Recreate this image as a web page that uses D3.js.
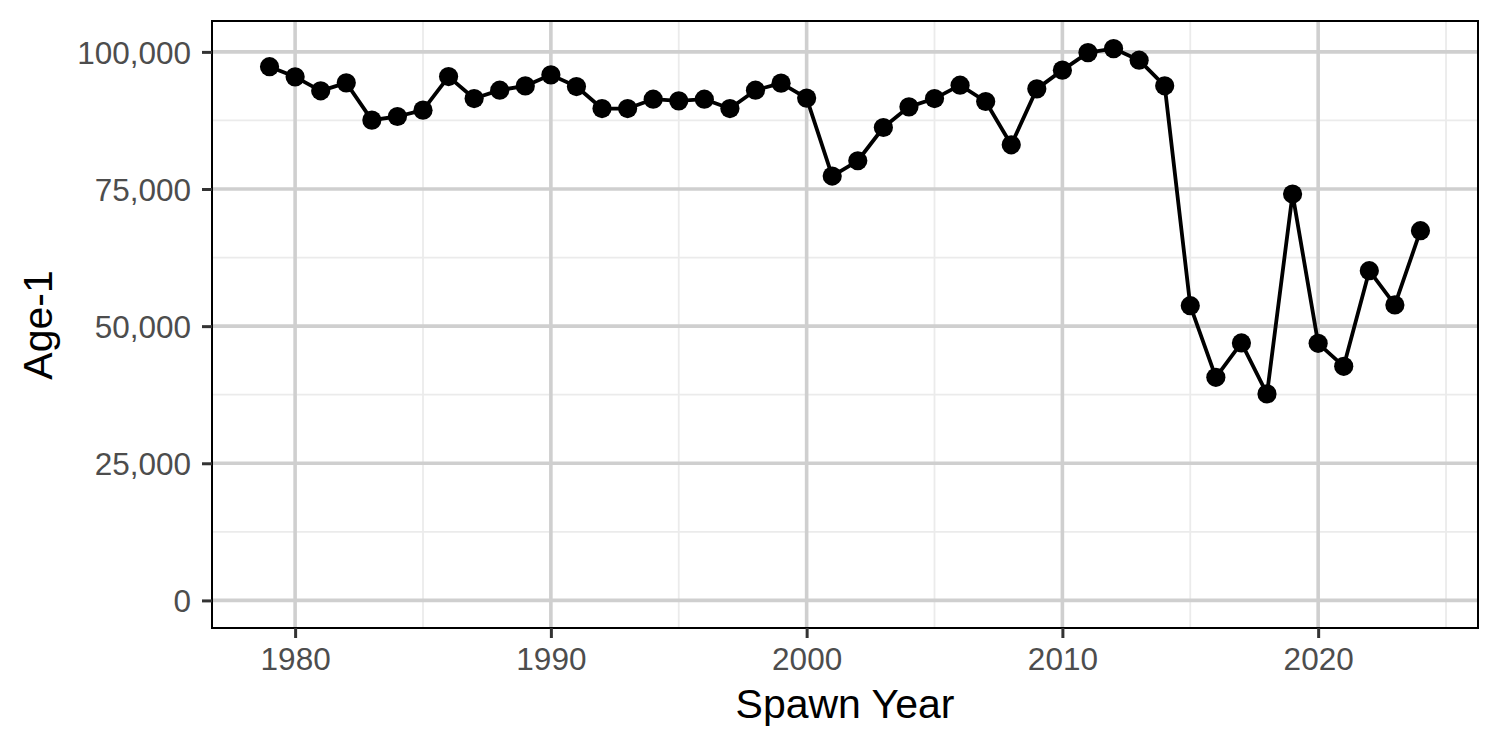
<!DOCTYPE html>
<html>
<head>
<meta charset="utf-8">
<script src="https://cdn.jsdelivr.net/npm/d3@7"></script>
<style>
  body { margin: 0; background: #fff; }
  text { font-family: "Liberation Sans", Arial, Helvetica, sans-serif; }
</style>
</head>
<body>
<script>
// data
const years = [1979, 1980, 1981, 1982, 1983, 1984, 1985, 1986, 1987, 1988,
    1989, 1990, 1991, 1992, 1993, 1994, 1995, 1996, 1997, 1998,
    1999, 2000, 2001, 2002, 2003, 2004, 2005, 2006, 2007, 2008,
    2009, 2010, 2011, 2012, 2013, 2014, 2015, 2016, 2017, 2018,
    2019, 2020, 2021, 2022, 2023, 2024];

const age1 = [97300, 95450, 92900, 94350, 87560, 88220, 89380, 95500, 91490, 93020,
    93800, 95810, 93680, 89670, 89670, 91380, 91070, 91380, 89670, 93020,
    94300, 91570, 77360, 80150, 86210, 89980, 91490, 93930, 90950, 83060,
    93260, 96670, 99870, 100600, 98490, 93810, 53730, 40670, 46940, 37650,
    74080, 46870, 42680, 60110, 53860, 67400];

const xTicks = [1980, 1990, 2000, 2010, 2020];
const xMinor = [1985, 1995, 2005, 2015, 2025];
const yTicks = [0, 25000, 50000, 75000, 100000];
const yMinor = [12500, 37500, 62500, 87500];

const xTitle = 'Spawn Year';
const yTitle = 'Age-1';

const W = 1500;
const H = 750;
const margin = {
    top: 21, right: 22, bottom: 122, left: 212,
};
const width = W - margin.left - margin.right;
const height = H - margin.top - margin.bottom;

const data = years.map((y, i) => ({ year: y, value: age1[i] }));

// ggplot style 5% expansion
const xExt = d3.extent(years);
const xPad = (xExt[1] - xExt[0]) * 0.05;
const yMax = d3.max(age1);
const yPad = yMax * 0.05;

const x = d3.scaleLinear()
    .domain([xExt[0] - xPad, xExt[1] + xPad])
    .range([0, width]);

const y = d3.scaleLinear()
    .domain([-yPad, yMax + yPad])
    .range([height, 0]);

const svg = d3.select('body').append('svg')
    .attr('width', W)
    .attr('height', H);

const g = svg.append('g')
    .attr('transform', `translate(${margin.left},${margin.top})`);

// minor grid
g.selectAll('.xminor').data(xMinor).enter().append('line')
    .attr('x1', d => x(d)).attr('x2', d => x(d))
    .attr('y1', 0).attr('y2', height)
    .attr('stroke', '#ebebeb').attr('stroke-width', 1.8);
g.selectAll('.yminor').data(yMinor).enter().append('line')
    .attr('x1', 0).attr('x2', width)
    .attr('y1', d => y(d)).attr('y2', d => y(d))
    .attr('stroke', '#ebebeb').attr('stroke-width', 1.8);

// major grid
g.selectAll('.xmajor').data(xTicks).enter().append('line')
    .attr('x1', d => x(d)).attr('x2', d => x(d))
    .attr('y1', 0).attr('y2', height)
    .attr('stroke', '#cfcfcf').attr('stroke-width', 3.6);
g.selectAll('.ymajor').data(yTicks).enter().append('line')
    .attr('x1', 0).attr('x2', width)
    .attr('y1', d => y(d)).attr('y2', d => y(d))
    .attr('stroke', '#cfcfcf').attr('stroke-width', 3.6);

// line + points
const line = d3.line()
    .x(d => x(d.year))
    .y(d => y(d.value));

g.append('path')
    .datum(data)
    .attr('fill', 'none')
    .attr('stroke', '#000')
    .attr('stroke-width', 3.8)
    .attr('stroke-linejoin', 'round')
    .attr('d', line);

g.selectAll('.pt').data(data).enter().append('circle')
    .attr('cx', d => x(d.year))
    .attr('cy', d => y(d.value))
    .attr('r', 9.6)
    .attr('fill', '#000');

// panel border
g.append('rect')
    .attr('width', width)
    .attr('height', height)
    .attr('fill', 'none')
    .attr('stroke', '#000')
    .attr('stroke-width', 2);

// axes
const xAxis = g.append('g')
    .attr('transform', `translate(0,${height})`)
    .call(d3.axisBottom(x).tickValues(xTicks).tickFormat(d3.format('d'))
        .tickSizeInner(10).tickSizeOuter(0).tickPadding(10));

const yAxis = g.append('g')
    .call(d3.axisLeft(y).tickValues(yTicks).tickFormat(d3.format(','))
        .tickSizeInner(10).tickSizeOuter(0).tickPadding(11));

[xAxis, yAxis].forEach((ax) => {
    ax.select('.domain').remove();
    ax.selectAll('.tick line').attr('stroke', '#333').attr('stroke-width', 3);
    ax.selectAll('.tick text')
        .attr('fill', '#4d4d4d')
        .style('font-size', '31.5px')
        .style('font-family', '"Liberation Sans", Arial, sans-serif');
});
xAxis.selectAll('.tick text').attr('dy', '0.71em');
yAxis.selectAll('.tick text').attr('dy', '0.36em');

// titles
svg.append('text')
    .attr('x', margin.left + width / 2)
    .attr('y', 718)
    .attr('text-anchor', 'middle')
    .style('font-size', '41px')
    .text(xTitle);

svg.append('text')
    .attr('transform', 'translate(52,325) rotate(-90)')
    .attr('text-anchor', 'middle')
    .style('font-size', '41px')
    .text(yTitle);
</script>
</body>
</html>
